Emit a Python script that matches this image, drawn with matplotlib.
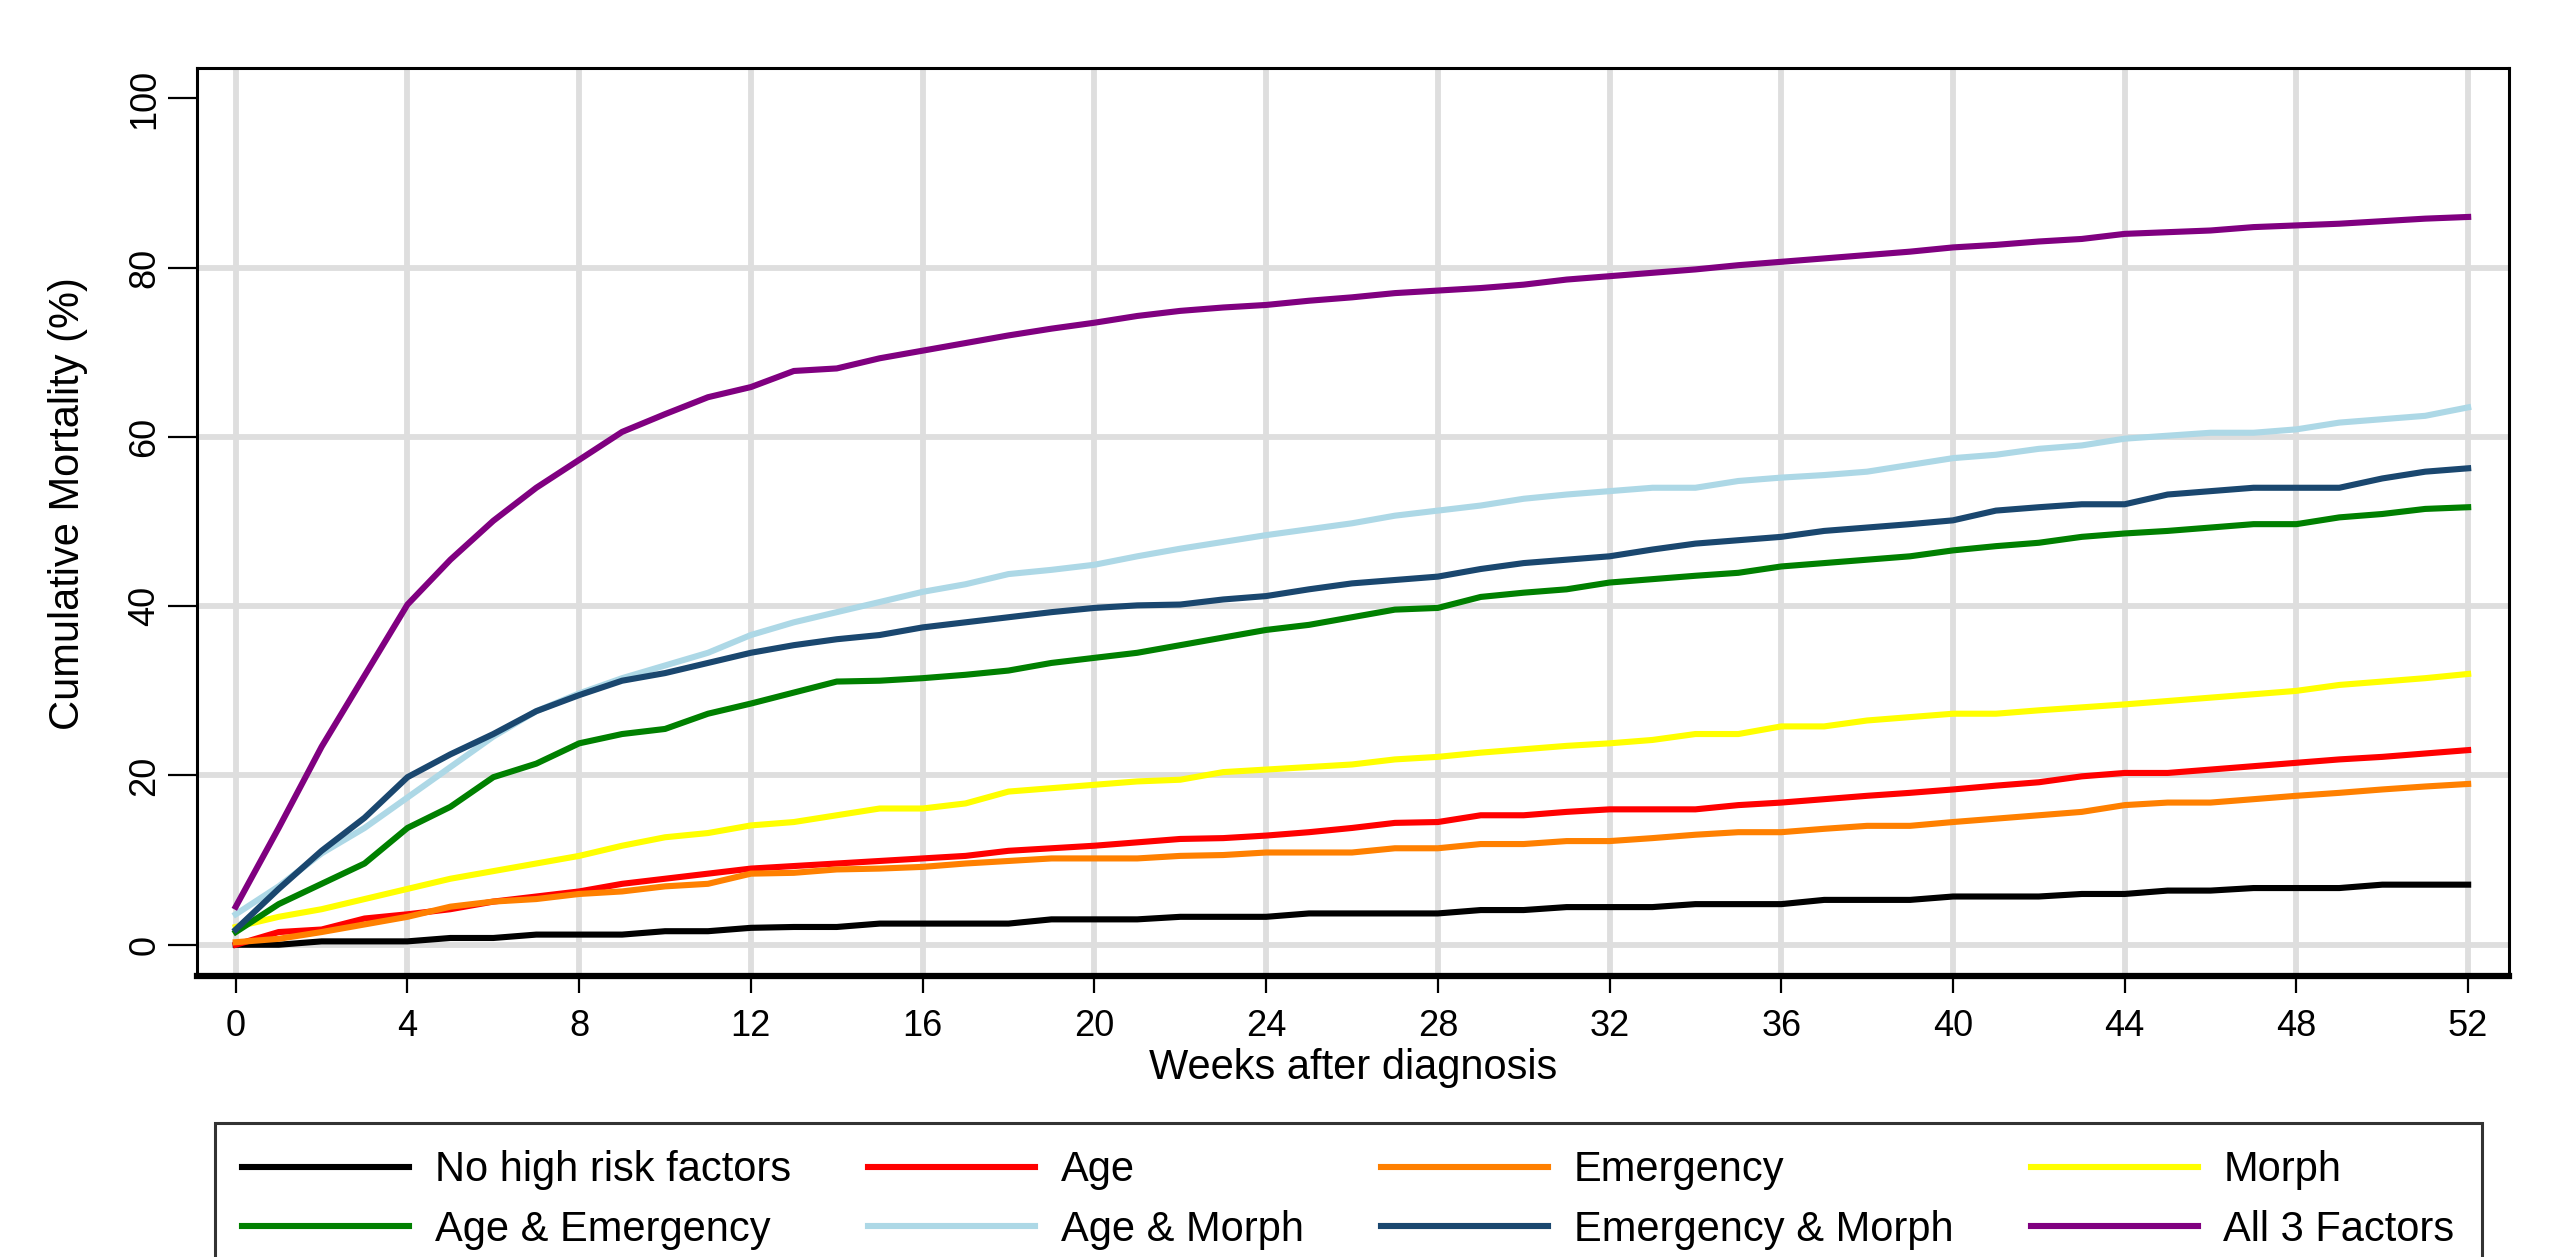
import numpy as np
import matplotlib
matplotlib.use("Agg")
from matplotlib import pyplot as plt

plt.rcParams['font.family'] = ['Liberation Sans', 'DejaVu Sans']

# weeks after diagnosis
weeks = np.arange(0, 53)

# cumulative mortality (%), one value per week
no_risk = [0, 0, 0.4, 0.4, 0.4, 0.8, 0.8, 1.2, 1.2, 1.2, 1.6, 1.6, 2.0, 2.1, 2.1, 2.5, 2.5, 2.5,
           2.5, 3.0, 3.0, 3.0, 3.3, 3.3, 3.3, 3.7, 3.7, 3.7, 3.7, 4.1, 4.1, 4.45, 4.45, 4.45, 4.8,
           4.8, 4.8, 5.3, 5.3, 5.3, 5.7, 5.7, 5.7, 6.0, 6.0, 6.4, 6.4, 6.7, 6.7, 6.7, 7.1, 7.1, 7.1]
age = [0, 1.5, 1.8, 3.1, 3.6, 4.2, 5.1, 5.7, 6.3, 7.2, 7.8, 8.4, 9.0, 9.3, 9.6, 9.9, 10.2, 10.5,
       11.1, 11.4, 11.7, 12.1, 12.5, 12.6, 12.9, 13.3, 13.8, 14.4, 14.5, 15.3, 15.3, 15.7, 16.0,
       16.0, 16.0, 16.5, 16.8, 17.2, 17.6, 17.95, 18.35, 18.8, 19.2, 19.9, 20.3, 20.3, 20.7, 21.1,
       21.5, 21.9, 22.2, 22.6, 23.0]
emergency = [0.3, 0.7, 1.5, 2.4, 3.3, 4.5, 5.1, 5.4, 6.0, 6.3, 6.9, 7.2, 8.4, 8.5, 8.9, 9.0, 9.2,
             9.6, 9.9, 10.2, 10.2, 10.2, 10.5, 10.6, 10.9, 10.9, 10.9, 11.4, 11.4, 11.9, 11.9,
             12.25, 12.25, 12.6, 13.0, 13.3, 13.3, 13.7, 14.05, 14.05, 14.5, 14.9, 15.3, 15.7,
             16.5, 16.8, 16.8, 17.2, 17.6, 17.95, 18.35, 18.7, 19.0]
morph = [2.1, 3.3, 4.2, 5.4, 6.6, 7.8, 8.7, 9.6, 10.5, 11.7, 12.7, 13.2, 14.1, 14.5, 15.3, 16.1,
         16.1, 16.7, 18.1, 18.5, 18.9, 19.3, 19.5, 20.4, 20.7, 21.0, 21.3, 21.9, 22.2, 22.7, 23.1,
         23.5, 23.8, 24.2, 24.9, 24.9, 25.8, 25.8, 26.5, 26.9, 27.3, 27.3, 27.7, 28.05, 28.4, 28.8,
         29.2, 29.6, 30.0, 30.7, 31.1, 31.5, 32.0]
age_emerg = [1.5, 4.8, 7.2, 9.6, 13.8, 16.3, 19.8, 21.4, 23.8, 24.9, 25.5, 27.3, 28.5, 29.8, 31.1,
             31.2, 31.5, 31.9, 32.4, 33.3, 33.9, 34.5, 35.4, 36.3, 37.2, 37.8, 38.7, 39.6, 39.8,
             41.1, 41.6, 42.0, 42.8, 43.2, 43.6, 43.95, 44.7, 45.1, 45.5, 45.9, 46.6, 47.1, 47.5,
             48.2, 48.6, 48.9, 49.3, 49.7, 49.7, 50.5, 50.9, 51.5, 51.7]
age_morph = [3.6, 6.9, 10.8, 13.8, 17.4, 21.0, 24.6, 27.6, 29.7, 31.5, 33.0, 34.5, 36.6, 38.1,
             39.3, 40.5, 41.7, 42.6, 43.8, 44.3, 44.9, 45.9, 46.8, 47.6, 48.4, 49.1, 49.8, 50.7,
             51.3, 51.9, 52.7, 53.2, 53.6, 54.0, 54.0, 54.8, 55.2, 55.5, 55.9, 56.7, 57.5, 57.9,
             58.6, 59.0, 59.8, 60.15, 60.5, 60.5, 60.9, 61.7, 62.1, 62.5, 63.5]
emerg_morph = [1.8, 6.6, 11.1, 15.0, 19.8, 22.5, 24.9, 27.6, 29.5, 31.2, 32.1, 33.3, 34.5, 35.4,
               36.1, 36.6, 37.5, 38.1, 38.7, 39.3, 39.8, 40.1, 40.2, 40.8, 41.2, 42.0, 42.7, 43.1,
               43.5, 44.4, 45.1, 45.5, 45.9, 46.7, 47.4, 47.8, 48.2, 48.9, 49.3, 49.7, 50.15, 51.3,
               51.7, 52.05, 52.05, 53.2, 53.6, 54.0, 54.0, 54.0, 55.1, 55.9, 56.3]
all_three = [4.5, 13.8, 23.4, 31.8, 40.2, 45.5, 50.1, 54.0, 57.3, 60.6, 62.7, 64.7, 65.9, 67.8,
             68.1, 69.3, 70.2, 71.1, 72.0, 72.8, 73.5, 74.3, 74.9, 75.3, 75.6, 76.1, 76.5, 77.0,
             77.3, 77.6, 78.0, 78.6, 79.0, 79.4, 79.8, 80.3, 80.7, 81.1, 81.5, 81.9, 82.4, 82.7,
             83.1, 83.4, 84.0, 84.2, 84.4, 84.8, 85.0, 85.2, 85.5, 85.8, 86.0]

labels = ["No high risk factors", "Age", "Emergency", "Morph",
          "Age & Emergency", "Age & Morph", "Emergency & Morph", "All 3 Factors"]
series = [no_risk, age, emergency, morph, age_emerg, age_morph, emerg_morph, all_three]
colors = ["black", "#ff0000", "#ff8000", "#ffff00", "#008000", "#add8e6", "#1a476f", "#800080"]

fig = plt.figure(figsize=(25.5, 12.57), dpi=100)
ax = fig.add_axes([0.0773, 0.2235, 0.9066, 0.7224])

handles = []
for y, c, lab in zip(series, colors, labels):
    h, = ax.plot(weeks, y, color=c, lw=4.4, label=lab)
    handles.append(h)

ax.set_xlim(-0.9, 52.95)
ax.set_ylim(-3.7, 103.6)
ax.set_xticks(np.arange(0, 53, 4))
ax.set_yticks(np.arange(0, 101, 20))

ax.set_axisbelow(True)
ax.grid(True, color="#dedede", lw=4.2)
ax.yaxis.get_gridlines()[-1].set_visible(False)

for s in ax.spines.values():
    s.set_linewidth(2.2)
ax.spines['bottom'].set_linewidth(4.5)

ax.tick_params(axis='x', length=12, width=1.6, labelsize=26, pad=12)
ax.tick_params(axis='y', length=21, width=1.6, labelsize=26, pad=4)
for t in ax.get_yticklabels():
    t.set_rotation(90)
    t.set_va('center')

ax.set_xlabel("Weeks after diagnosis", fontsize=30)
ax.set_ylabel("Cumulative Mortality (%)", fontsize=30)
ax.xaxis.set_label_coords(0.5, -0.101)
ax.xaxis.label.set_va('center')
ax.yaxis.set_label_coords(-0.0558, 0.52)
ax.yaxis.label.set_va('center')

# legend is filled column by column, reorder to read row by row
order = [0, 4, 1, 5, 2, 6, 3, 7]
leg = fig.legend([handles[i] for i in order], [labels[i] for i in order],
                 loc='upper left', bbox_to_anchor=(215 / 2550, 1 - 1123 / 1257),
                 ncol=4, fontsize=30, frameon=True, fancybox=False, borderaxespad=0,
                 handlelength=4.0, handletextpad=0.62, columnspacing=1.86,
                 borderpad=0.65, labelspacing=0.47)
leg.get_frame().set_edgecolor('black')
leg.get_frame().set_linewidth(2.2)

fig.savefig("out.png", dpi=100)
